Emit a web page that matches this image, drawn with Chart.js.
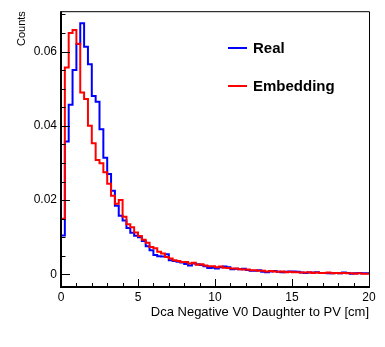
<!DOCTYPE html>
<html>
<head>
<meta charset="utf-8">
<script src="https://cdn.jsdelivr.net/npm/chart.js@4.4.1/dist/chart.umd.min.js"></script>
<style>
  html, body { margin: 0; padding: 0; background: #ffffff; }
  canvas { display: block; }
</style>
</head>
<body>
<canvas id="dcaChart" width="385" height="347"></canvas>
<script>
// Histogram binning: 80 bins of 0.25 cm from 0 to 20 cm
const binWidth = 0.25;

const realCounts = [
    0.0105, 0.0358, 0.0457, 0.0550, 0.0620, 0.0676, 0.0613, 0.0566, 0.0480, 0.0465,
    0.0391, 0.0314, 0.0270, 0.0225, 0.0185, 0.0158, 0.0145, 0.0125, 0.0112, 0.0104,
    0.0100, 0.0090, 0.0076, 0.0065, 0.0052, 0.0049, 0.0048, 0.0054, 0.0038, 0.0036,
    0.0034, 0.0032, 0.0028, 0.0024, 0.0029, 0.0027, 0.0025, 0.0022, 0.0017, 0.0018,
    0.0016, 0.0019, 0.0021, 0.0019, 0.0014, 0.0015, 0.0014, 0.0015, 0.0012, 0.0010,
    0.0010, 0.0011, 0.0007, 0.0006, 0.0008, 0.0009, 0.0007, 0.0006, 0.0007, 0.0008,
    0.0008, 0.0007, 0.0005, 0.0004, 0.0005, 0.0005, 0.0006, 0.0004, 0.0004, 0.0003,
    0.0003, 0.0004, 0.0003, 0.0005, 0.0004, 0.0002, 0.0003, 0.0004, 0.0003, 0.0003
];

const embeddingCounts = [
    0.0150, 0.0557, 0.0650, 0.0658, 0.0621, 0.0490, 0.0472, 0.0400, 0.0353, 0.0308,
    0.0299, 0.0275, 0.0244, 0.0212, 0.0190, 0.0200, 0.0155, 0.0135, 0.0127, 0.0113,
    0.0103, 0.0093, 0.0085, 0.0074, 0.0070, 0.0061, 0.0056, 0.0047, 0.0043, 0.0038,
    0.0036, 0.0033, 0.0033, 0.0029, 0.0031, 0.0026, 0.0027, 0.0024, 0.0022, 0.0022,
    0.0019, 0.0021, 0.0018, 0.0017, 0.0016, 0.0016, 0.0014, 0.0013, 0.0013, 0.0011,
    0.0011, 0.0010, 0.0010, 0.0008, 0.0009, 0.0008, 0.0007, 0.0008, 0.0006, 0.0007,
    0.0006, 0.0006, 0.0005, 0.0005, 0.0006, 0.0004, 0.0005, 0.0004, 0.0004, 0.0005,
    0.0003, 0.0004, 0.0003, 0.0004, 0.0003, 0.0003, 0.0002, 0.0003, 0.0002, 0.0002
];

const seriesLabels = ["Real", "Embedding"];
const seriesColors = ["#0000ff", "#ff0000"];

const xTickValues = [0, 5, 10, 15, 20];
const xTickLabels = ["0", "5", "10", "15", "20"];
const yTickValues = [0, 0.02, 0.04, 0.06];
const yTickLabels = ["0", "0.02", "0.04", "0.06"];

const xTitle = "Dca Negative V0 Daughter to PV [cm]";
const yTitle = "Counts";

const fontFamily = "'Liberation Sans', Arial, Helvetica, sans-serif";

// step outline: each bin value starts at its lower edge, plus the closing upper edge
function toSteps(counts) {
    const points = counts.map((v, i) => ({ x: i * binWidth, y: v }));
    points.push({ x: counts.length * binWidth, y: counts[counts.length - 1] });
    return points;
}

// ROOT style frame: ticks pointing into the pad, thin top/right border
const rootFrame = {
    id: "rootFrame",
    afterDatasetsDraw(chart) {
        const ctx = chart.ctx;
        const area = chart.chartArea;
        const x = chart.scales.x;
        const y = chart.scales.y;

        ctx.save();
        ctx.strokeStyle = "#000000";

        ctx.lineWidth = 1;
        ctx.beginPath();
        ctx.moveTo(area.left, area.top + 0.5);
        ctx.lineTo(area.right + 0.5, area.top + 0.5);
        ctx.lineTo(area.right + 0.5, area.bottom);
        ctx.stroke();

        ctx.lineWidth = 1;
        ctx.beginPath();
        for (let v = 0; v <= 20.001; v += 1) {
            const px = Math.round(x.getPixelForValue(v)) + 0.5;
            const len = xTickValues.includes(Math.round(v)) ? 8 : 4;
            ctx.moveTo(px, area.bottom);
            ctx.lineTo(px, area.bottom - len);
        }
        for (let v = 0; v <= 0.0705; v += 0.005) {
            const py = Math.round(y.getPixelForValue(v)) + 0.5;
            const major = yTickValues.some(t => Math.abs(t - v) < 1e-6);
            ctx.moveTo(area.left, py);
            ctx.lineTo(area.left + (major ? 9 : 4.5), py);
        }
        ctx.stroke();

        ctx.lineWidth = 2;
        ctx.beginPath();
        ctx.moveTo(area.left, area.top);
        ctx.lineTo(area.left, area.bottom);
        ctx.lineTo(area.right + 1, area.bottom);
        ctx.stroke();

        ctx.restore();
    },
    afterDraw(chart) {
        const ctx = chart.ctx;
        const rows = [48, 86];

        ctx.save();
        ctx.font = "bold 15px " + fontFamily;
        ctx.textBaseline = "middle";
        ctx.textAlign = "left";
        chart.data.datasets.forEach((ds, i) => {
            ctx.strokeStyle = ds.borderColor;
            ctx.lineWidth = 2;
            ctx.beginPath();
            ctx.moveTo(228, rows[i]);
            ctx.lineTo(247, rows[i]);
            ctx.stroke();
            ctx.fillStyle = "#000000";
            ctx.fillText(ds.label, 253, rows[i] + 1);
        });
        ctx.restore();
    }
};

const tickFont = { family: fontFamily, size: 12 };

new Chart(document.getElementById("dcaChart"), {
    type: "line",
    data: {
        datasets: [
            {
                label: seriesLabels[0],
                data: toSteps(realCounts),
                borderColor: seriesColors[0],
                borderWidth: 2,
                stepped: "before",
                pointRadius: 0,
                fill: false,
                order: 2
            },
            {
                label: seriesLabels[1],
                data: toSteps(embeddingCounts),
                borderColor: seriesColors[1],
                borderWidth: 2,
                stepped: "before",
                pointRadius: 0,
                fill: false,
                order: 1
            }
        ]
    },
    options: {
        responsive: false,
        animation: false,
        devicePixelRatio: 1,
        layout: {
            padding: { left: 0, top: 10, right: 16, bottom: 0 }
        },
        plugins: {
            legend: { display: false },
            tooltip: { enabled: false }
        },
        scales: {
            x: {
                type: "linear",
                min: 0,
                max: 20,
                grid: { display: false, drawTicks: false },
                border: { display: false },
                afterBuildTicks: function (scale) {
                    scale.ticks = xTickValues.map(v => ({ value: v }));
                },
                afterFit: function (scale) {
                    scale.height = 60;
                },
                ticks: {
                    autoSkip: false,
                    maxRotation: 0,
                    padding: 3,
                    color: "#000000",
                    font: tickFont,
                    callback: function (value) {
                        return xTickLabels[xTickValues.indexOf(value)];
                    }
                },
                title: {
                    display: true,
                    text: xTitle,
                    align: "end",
                    color: "#000000",
                    font: { family: fontFamily, size: 13 },
                    padding: { top: 0, bottom: 27 }
                }
            },
            y: {
                type: "linear",
                min: -0.0034,
                max: 0.07086,
                grid: { display: false, drawTicks: false },
                border: { display: false },
                afterBuildTicks: function (scale) {
                    scale.ticks = yTickValues.map(v => ({ value: v }));
                },
                afterFit: function (scale) {
                    scale.width = 61;
                },
                ticks: {
                    padding: 4,
                    color: "#000000",
                    font: tickFont,
                    callback: function (value) {
                        return yTickLabels[yTickValues.indexOf(value)];
                    }
                },
                title: {
                    display: true,
                    text: yTitle,
                    align: "end",
                    color: "#000000",
                    font: { family: fontFamily, size: 11 },
                    padding: { top: 15, bottom: 0 }
                }
            }
        }
    },
    plugins: [rootFrame]
});
</script>
</body>
</html>
